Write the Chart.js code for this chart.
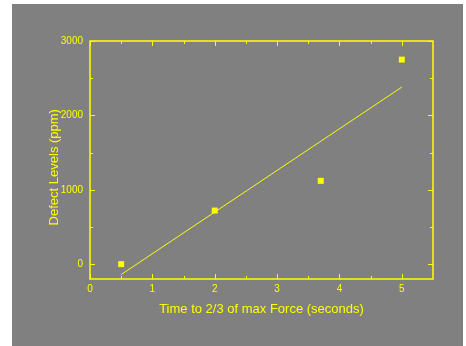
<!DOCTYPE html>
<html>
<head>
<meta charset="utf-8">
<script src="https://cdn.jsdelivr.net/npm/chart.js@4"></script>
<style>
  body { margin: 0; background: #ffffff; }
  #wrap { width: 466px; height: 346px; position: relative; }
</style>
</head>
<body>
<div id="wrap"><canvas id="defectChart"></canvas></div>
<script>
// measured points
const timeValues = [0.5, 2, 3.7, 5];
const defectValues = [0, 720, 1120, 2750];
// least squares fit line
const fitTimes = [0.5, 5];
const fitDefects = [-140, 2380];
// axis ticks
const xTicks = [0, 1, 2, 3, 4, 5];
const xMinorTicks = [0.5, 1.5, 2.5, 3.5, 4.5];
const yTicks = [0, 1000, 2000, 3000];
const yMinorTicks = [500, 1500, 2500];

const YELLOW = '#ffff00';
const GREY = '#808080';
const FONT = 'Liberation Sans, Arial';

// grey panel behind everything
const panelBg = {
  id: 'panelBg',
  beforeDraw(chart) {
    const ctx = chart.ctx;
    ctx.save();
    ctx.fillStyle = GREY;
    ctx.fillRect(12, 4, 451, 342);
    ctx.restore();
  }
};

// box round the plot with inward ticks on every side
const frameTicks = {
  id: 'frameTicks',
  afterDatasetsDraw(chart) {
    const ctx = chart.ctx;
    const a = chart.chartArea;
    const xs = chart.scales.x, ys = chart.scales.y;
    ctx.save();
    ctx.strokeStyle = YELLOW;
    ctx.lineWidth = 1.5;
    ctx.strokeRect(a.left, a.top, a.right - a.left, a.bottom - a.top);
    ctx.lineWidth = 1;
    ctx.beginPath();
    const xt = (v, len) => {
      const px = Math.round(xs.getPixelForValue(v)) + 0.5;
      ctx.moveTo(px, a.bottom); ctx.lineTo(px, a.bottom - len);
      ctx.moveTo(px, a.top); ctx.lineTo(px, a.top + len);
    };
    const yt = (v, len) => {
      const py = Math.round(ys.getPixelForValue(v)) + 0.5;
      ctx.moveTo(a.left, py); ctx.lineTo(a.left + len, py);
      ctx.moveTo(a.right, py); ctx.lineTo(a.right - len, py);
    };
    xTicks.forEach(v => xt(v, 5));
    xMinorTicks.forEach(v => xt(v, 3));
    yTicks.forEach(v => yt(v, 5));
    yMinorTicks.forEach(v => yt(v, 3));
    ctx.stroke();
    ctx.restore();
  }
};

function defectChart() {
  const ctx = document.getElementById('defectChart').getContext('2d');
  const chart = new Chart(ctx, {
    type: 'scatter',
    data: {
      datasets: [
        {
          label: 'Defect Levels',
          data: timeValues.map((t, i) => ({ x: t, y: defectValues[i] })),
          pointStyle: 'rect',
          pointRadius: 4.2,
          backgroundColor: YELLOW,
          borderWidth: 0,
          showLine: false
        },
        {
          label: 'Fit',
          data: fitTimes.map((t, i) => ({ x: t, y: fitDefects[i] })),
          showLine: true,
          pointRadius: 0,
          borderColor: YELLOW,
          borderWidth: 1
        }
      ]
    },
    options: {
      responsive: true,
      maintainAspectRatio: false,
      animation: false,
      layout: { padding: { left: 0, top: 41, right: 33, bottom: 0 } },
      plugins: { legend: { display: false }, tooltip: { enabled: false } },
      scales: {
        x: {
          type: 'linear',
          min: 0, max: 5.5,
          afterBuildTicks: s => { s.ticks = xTicks.map(v => ({ value: v })); },
          afterFit: s => { s.height = 67; },
          grid: { display: false, drawTicks: false },
          border: { display: false },
          ticks: { color: YELLOW, padding: 4, maxRotation: 0,
                   callback: v => String(v),
                   font: { family: FONT, size: 10 } },
          title: { display: true, text: 'Time to 2/3 of max Force (seconds)', color: YELLOW,
                   padding: { top: 0, bottom: 29 },
                   font: { family: FONT, size: 13 } }
        },
        y: {
          type: 'linear',
          min: -200, max: 3000,
          afterBuildTicks: s => { s.ticks = yTicks.map(v => ({ value: v })); },
          afterFit: s => { s.width = 90; },
          grid: { display: false, drawTicks: false },
          border: { display: false },
          ticks: { color: YELLOW, padding: 7,
                   callback: v => String(v),
                   font: { family: FONT, size: 10 } },
          title: { display: true, text: 'Defect Levels (ppm)    ', color: YELLOW,
                   padding: { top: 47, bottom: 0 },
                   font: { family: FONT, size: 13 } }
        }
      }
    },
    plugins: [panelBg, frameTicks]
  });
}
defectChart()
</script>
</body>
</html>
